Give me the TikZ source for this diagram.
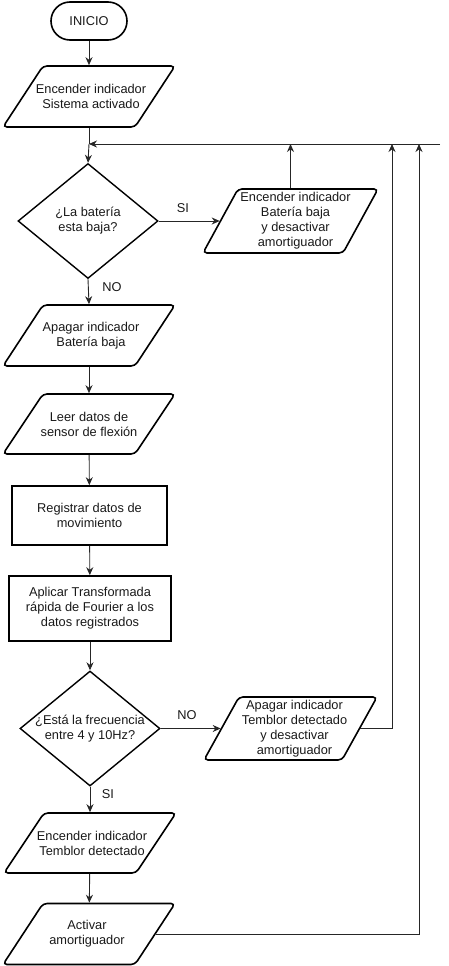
\documentclass[tikz,border=0pt]{standalone}
\usepackage{fontspec}
\setmainfont{Liberation Sans}
\usetikzlibrary{shapes.geometric,arrows.meta}
\tikzset{
  x=1pt,y=-1pt,
  every node/.style={font=\fontsize{12.8}{15}\selectfont, text=black!90},
  iotext/.style={rectangle, align=center, inner sep=0pt, outer sep=0.8pt},
  iobord/.style={draw, line width=1.6pt, rounded corners=4pt},
  procbox/.style={rectangle, draw, line width=1.6pt, align=center, inner sep=0pt},
  decision/.style={diamond, draw, line width=1.4pt, inner sep=0pt, minimum width=140pt, minimum height=115pt},
  term/.style={rectangle, draw, line width=1.6pt, rounded corners=19pt, minimum width=76pt, minimum height=38pt},
  conn/.style={line width=0.9pt, draw=black!85},
  arr/.style={conn, -{Stealth[length=8pt,width=7pt]}},
  lbl/.style={inner sep=0pt},
}
% name, cx, cy, total width, height, slant offset, text, text x shift
\newcommand\ionode[8]{%
  \node[iotext, minimum width={#4-#6}, minimum height=#5] (#1) at (#2,#3) {};
  \draw[iobord] (#2-#4/2, #3+#5/2) -- (#2+#4/2-#6, #3+#5/2) -- (#2+#4/2, #3-#5/2)
     -- (#2-#4/2+#6, #3-#5/2) -- cycle;
  \node[lbl, align=center] (#1t) at (#2+#8,#3) {#7};
}
\begin{document}
\begin{tikzpicture}
\useasboundingbox (0,0) rectangle (449,966);
% nodes
\node[term] (start) at (89,21) {INICIO};
\ionode{p1}{89}{96.5}{172}{61}{40}{Encender indicador\\Sistema activado}{2}
\node[decision] (d1) at (88,221) {};
\node[lbl, align=center] (d1t) at (88,221) {¿La batería\\esta baja?};
\ionode{p2}{290.5}{221}{175}{64}{35}{Encender indicador\\Batería baja\\y desactivar\\amortiguador}{5}
\ionode{p3}{89}{335.5}{172}{61}{40}{Apagar indicador\\Batería baja}{2}
\ionode{p4}{89}{424}{172}{60}{40}{Leer datos de\\sensor de flexión}{0}
\node[procbox, minimum width=155pt, minimum height=59pt] (r1) at (89.5,515.5) {Registrar datos de\\movimiento};
\node[procbox, minimum width=162pt, minimum height=65pt] (r2) at (90,608.5) {Aplicar Transformada\\rápida de Fourier a los\\datos registrados};
\node[decision] (d2) at (90,728.5) {};
\node[lbl, align=center] (d2t) at (90,728.5) {¿Está la frecuencia\\entre 4 y 10Hz?};
\ionode{p5}{290.5}{728.5}{173}{63}{35}{Apagar indicador\\Temblor detectado\\y desactivar\\amortiguador}{4}
\ionode{p6}{90}{843}{172}{60}{40}{Encender indicador\\Temblor detectado}{2}
\ionode{p7}{89}{934}{172}{61}{40}{Activar\\amortiguador}{-2}
% coordinates
\coordinate (m1) at (89,144);
\coordinate (rend) at (440,144);
\coordinate (c1) at (392,144);
\coordinate (c2) at (419,144);
% labels
\node[lbl] (lsi1) at (183,208) {SI};
\node[lbl] (lno1) at (112,287) {NO};
\node[lbl] (lno2) at (187,715) {NO};
\node[lbl] (lsi2) at (108,794) {SI};
% connectors
\draw[arr] (start) -- (p1);
\draw[conn] (p1.south) -- (m1);
\draw[arr] (m1) -- (d1.north);
\draw[arr] (rend) -- (m1);
\draw[arr] (d1.east) -- (p2.west);
\draw[arr] (p2.north) -- (p2.north |- m1);
\draw[arr] (d1.south) -- (p3.north);
\draw[arr] (p3) -- (p4);
\draw[arr] (p4) -- (r1);
\draw[arr] (r1) -- (r2);
\draw[arr] (r2) -- (d2.north);
\draw[arr] (d2.east) -- (p5.west);
\draw[arr] (p5.east) -| (c1);
\draw[arr] (d2.south) -- (p6.north);
\draw[arr] (p6) -- (p7);
\draw[arr] (p7.east) -| (c2);
\end{tikzpicture}
\end{document}
